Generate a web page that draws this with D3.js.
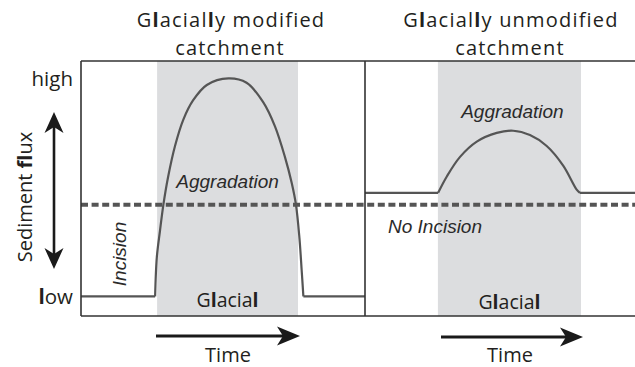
<!DOCTYPE html>
<html>
<head>
<meta charset="utf-8">
<script src="https://cdn.jsdelivr.net/npm/d3@7"></script>
<style>
  html, body { margin: 0; padding: 0; background: #fff; }
  svg { display: block; }
  .sans { font-family: "Open Sans", "Noto Sans", sans-serif; fill: #231f20; }
  .ital { font-family: "Liberation Sans", Arial, sans-serif; font-style: italic; fill: #2a2a2a; }
</style>
</head>
<body>
<svg id="chart" width="635" height="367"></svg>
<script>
// Sediment flux through time (0–100) for two kinds of catchment.
const panelTitles = [["Glacially modified", "catchment"], ["Glacially unmodified", "catchment"]];
const glacialStart = [26.8, 27.0];
const glacialEnd   = [76.4, 80.0];

// Left panel: glacially modified catchment
const modifiedTime = [0, 26.1, 26.7, 27.8, 29.0, 30.7, 33.1, 36.0, 39.5, 44.3, 51.9,
                      58.3, 64.2, 68.3, 71.8, 74.2, 75.7, 76.9, 77.7, 78.3, 100];
const modifiedFlux = [0, 0, 0.18, 0.30, 0.42, 0.55, 0.69, 0.81, 0.90, 0.97, 1.0,
                      0.98, 0.89, 0.78, 0.64, 0.52, 0.42, 0.27, 0.12, 0, 0];

// Right panel: glacially unmodified catchment
const unmodifiedTime = [0, 27.1, 30.3, 35.2, 41.4, 48.8, 54.9, 61.1, 67.3, 73.4, 78.4, 79.6, 100];
const unmodifiedFlux = [0.475, 0.475, 0.55, 0.64, 0.71, 0.75, 0.76, 0.74, 0.69, 0.60, 0.49, 0.475, 0.475];

// Flux level separating incision from aggradation
const thresholdFlux = 0.42;

// Qualitative flux ticks
const fluxTickValues = [0, 1];
const fluxTickLabels = ["low", "high"];

const svg = d3.select("#chart");

const plotTop = 61, plotBottom = 316;
const panelX = [[81, 365], [365, 635]];

const y = d3.scaleLinear().domain([-0.09, 1.08]).range([plotBottom, plotTop]);
const xs = panelX.map(r => d3.scaleLinear().domain([0, 100]).range(r));

const series = [
  modifiedTime.map((t, i) => [t, modifiedFlux[i]]),
  unmodifiedTime.map((t, i) => [t, unmodifiedFlux[i]])
];

// glacial shading
xs.forEach((x, i) => {
  svg.append("rect")
    .attr("x", x(glacialStart[i]))
    .attr("y", plotTop)
    .attr("width", x(glacialEnd[i]) - x(glacialStart[i]))
    .attr("height", plotBottom - plotTop)
    .attr("fill", "#dcdddf");
});

// threshold dashed line across both panels
svg.append("line")
  .attr("x1", xs[0](0)).attr("x2", xs[1](100))
  .attr("y1", y(thresholdFlux)).attr("y2", y(thresholdFlux))
  .attr("stroke", "#555").attr("stroke-width", 4)
  .attr("stroke-dasharray", "7,3.6");

// flux curves: flat baselines as straight segments, the glacial pulse as a smooth arc
xs.forEach((x, i) => {
  const pts = series[i];
  const n = pts.length;
  const straight = d3.line().x(d => x(d[0])).y(d => y(d[1]));
  const smooth = d3.line().x(d => x(d[0])).y(d => y(d[1])).curve(d3.curveCatmullRom.alpha(0.5));
  const g = svg.append("g").attr("fill", "none").attr("stroke", "#555")
    .attr("stroke-width", 2.2).attr("stroke-linejoin", "round");
  g.append("path").attr("d", straight(pts.slice(0, 2)));
  g.append("path").attr("d", smooth(pts.slice(1, n - 1)));
  g.append("path").attr("d", straight(pts.slice(n - 2)));
});

// frame
const frame = svg.append("g").attr("stroke", "#333").attr("stroke-width", 1.6).attr("fill", "none");
frame.append("line").attr("x1", panelX[0][0]).attr("x2", panelX[1][1]).attr("y1", plotTop).attr("y2", plotTop);
frame.append("line").attr("x1", panelX[0][0]).attr("x2", panelX[1][1]).attr("y1", plotBottom).attr("y2", plotBottom);
frame.append("line").attr("x1", panelX[0][0]).attr("x2", panelX[0][0]).attr("y1", plotTop).attr("y2", plotBottom);
frame.append("line").attr("x1", panelX[0][1]).attr("x2", panelX[0][1]).attr("y1", plotTop).attr("y2", plotBottom);

// flux axis labels (low / high)
const yAxis = d3.axisLeft(y).tickValues(fluxTickValues)
  .tickFormat((d, i) => fluxTickLabels[i]).tickSize(0).tickPadding(0);
const ax = svg.append("g").attr("transform", `translate(${panelX[0][0] - 8},0)`).call(yAxis);
ax.select(".domain").remove();
ax.selectAll("text")
  .attr("class", "sans")
  .attr("font-size", 20.5)
  .attr("dy", "0.36em")
  .each(function(d, i) {
    const t = d3.select(this);
    if (fluxTickLabels[i] === "low") {
      t.text(null);
      t.append("tspan").attr("font-weight", 700).text("l");
      t.append("tspan").text("ow");
    }
  });

// panel titles
const titleCenters = [231, 511];
panelTitles.forEach((lines, i) => {
  const g = svg.append("g");
  const t1 = g.append("text").attr("class", "sans").attr("font-size", 20)
    .attr("letter-spacing", 1.2)
    .attr("text-anchor", "middle").attr("x", titleCenters[i]).attr("y", 27);
  const rest = lines[0].slice("Glacially".length);
  t1.append("tspan").text("G");
  t1.append("tspan").attr("font-weight", 700).text("l");
  t1.append("tspan").text("acial");
  t1.append("tspan").attr("font-weight", 700).text("l");
  t1.append("tspan").text("y" + rest);
  g.append("text").attr("class", "sans").attr("font-size", 20)
    .attr("letter-spacing", 1.2)
    .attr("text-anchor", "middle").attr("x", titleCenters[i] - 1).attr("y", 54.5)
    .text(lines[1]);
});

// "Glacial" labels inside the shaded bands
const glacialLabelY = [307, 309];
xs.forEach((x, i) => {
  const cx = (x(glacialStart[i]) + x(glacialEnd[i])) / 2;
  const t = svg.append("text").attr("class", "sans").attr("font-size", 19.5)
    .attr("text-anchor", "middle").attr("x", cx).attr("y", glacialLabelY[i]);
  t.append("tspan").text("G");
  t.append("tspan").attr("font-weight", 700).text("l");
  t.append("tspan").text("acia");
  t.append("tspan").attr("font-weight", 700).text("l");
});

// italic annotations
svg.append("text").attr("class", "ital").attr("font-size", 19)
  .attr("text-anchor", "middle").attr("x", xs[0](51.6)).attr("y", 188).text("Aggradation");
svg.append("text").attr("class", "ital").attr("font-size", 19)
  .attr("text-anchor", "middle").attr("x", xs[1](54.6)).attr("y", 118).text("Aggradation");
svg.append("text").attr("class", "ital").attr("font-size", 19)
  .attr("x", 388).attr("y", 233).text("No Incision");
svg.append("text").attr("class", "ital").attr("font-size", 19)
  .attr("text-anchor", "middle")
  .attr("transform", "translate(126,254) rotate(-90)").text("Incision");

// y axis title with double arrow
const ytitle = svg.append("text").attr("class", "sans").attr("font-size", 20)
  .attr("text-anchor", "middle")
  .attr("transform", "translate(32,197) rotate(-90)");
ytitle.append("tspan").text("Sediment ");
ytitle.append("tspan").attr("font-weight", 700).text("fl");
ytitle.append("tspan").text("ux");

const ink = "#1a1a1a";
svg.append("line").attr("x1", 54).attr("x2", 54).attr("y1", 125).attr("y2", 256)
  .attr("stroke", ink).attr("stroke-width", 2.6);
svg.append("path").attr("d", "M54,112 L44.5,133 L54,127 L63.5,133 Z").attr("fill", ink);
svg.append("path").attr("d", "M54,269 L44.5,248 L54,254 L63.5,248 Z").attr("fill", ink);

// time arrows under each glacial band
const timeArrows = [[156, 300, 336, 228], [441, 583, 337, 510]];
timeArrows.forEach(([x0, x1, yy, cx]) => {
  svg.append("line").attr("x1", x0).attr("x2", x1 - 12).attr("y1", yy).attr("y2", yy)
    .attr("stroke", ink).attr("stroke-width", 2.8);
  svg.append("path")
    .attr("d", `M${x1},${yy} L${x1 - 23},${yy - 9.5} L${x1 - 17},${yy} L${x1 - 23},${yy + 9.5} Z`)
    .attr("fill", ink);
  svg.append("text").attr("class", "sans").attr("font-size", 20)
    .attr("text-anchor", "middle").attr("x", cx).attr("y", 362).text("Time");
});
</script>
</body>
</html>
